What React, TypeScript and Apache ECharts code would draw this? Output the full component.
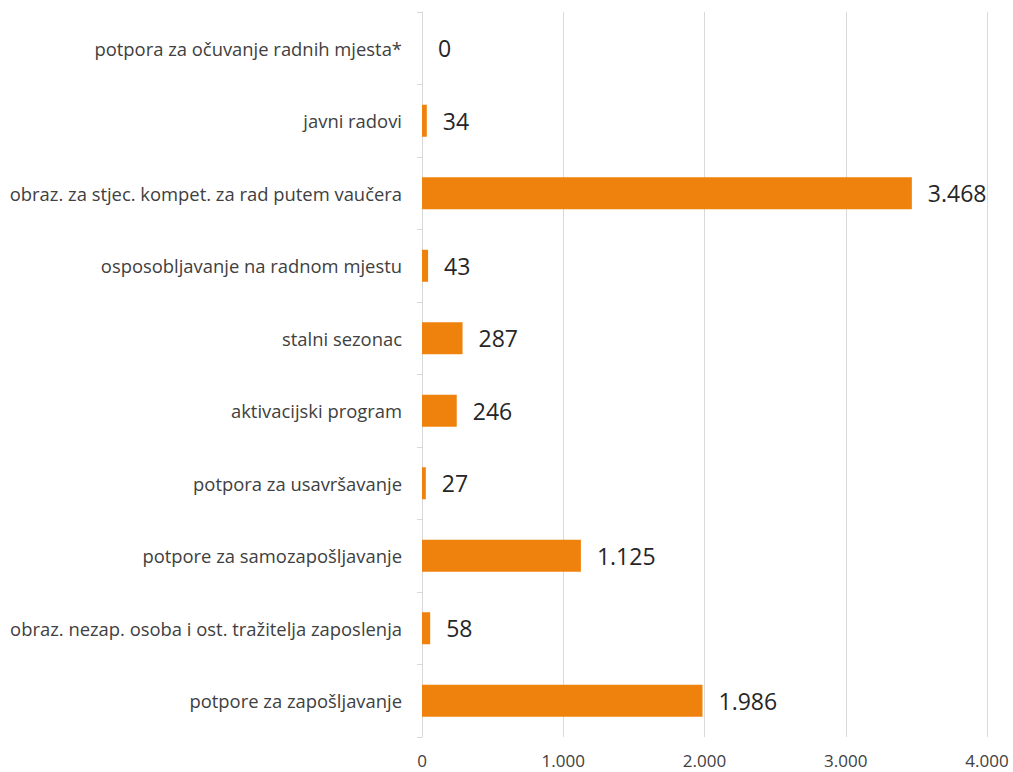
import React, { useEffect, useRef } from "react";
import * as echarts from "echarts";

const categories = [
  "potpora za očuvanje radnih mjesta*",
  "javni radovi",
  "obraz. za stjec. kompet. za rad putem vaučera",
  "osposobljavanje na radnom mjestu",
  "stalni sezonac",
  "aktivacijski program",
  "potpora za usavršavanje",
  "potpore za samozapošljavanje",
  "obraz. nezap. osoba i ost. tražitelja zaposlenja",
  "potpore za zapošljavanje",
];
const values = [0, 34, 3468, 43, 287, 246, 27, 1125, 58, 1986];

const fmt = (v: number) => String(v).replace(/\B(?=(\d{3})+(?!\d))/g, ".");

export default function App() {
  const ref = useRef<HTMLDivElement>(null);
  useEffect(() => {
    document.body.style.margin = "0";
    const chart = echarts.init(ref.current!, null, { renderer: "svg" });
    const font = "'Open Sans', sans-serif";
    chart.setOption({
      animation: false,
      grid: { left: 422, right: 26, top: 12, bottom: 35, containLabel: false },
      xAxis: {
        type: "value",
        min: 0,
        max: 4000,
        interval: 1000,
        axisLine: { show: false },
        axisTick: { show: false },
        splitLine: { lineStyle: { color: "#d9d9d9", width: 1 } },
        axisLabel: {
          formatter: (v: number) => fmt(v),
          color: "#404040",
          fontFamily: font,
          fontSize: 17,
          margin: 15,
        },
      },
      yAxis: {
        type: "category",
        inverse: true,
        data: categories,
        axisLine: { show: true, lineStyle: { color: "#d9d9d9", width: 1 } },
        axisTick: { show: true, length: 5, lineStyle: { color: "#d9d9d9" } },
        axisLabel: { color: "#404040", fontFamily: font, fontSize: 18.4, margin: 20 },
      },
      series: [
        {
          type: "bar",
          data: values,
          barWidth: 32,
          itemStyle: { color: "#EF820D" },
          label: {
            show: true,
            position: "right",
            distance: 16,
            formatter: (p: any) => fmt(p.value),
            color: "#262626",
            fontFamily: font,
            fontSize: 23,
          },
        },
      ],
    });
    return () => chart.dispose();
  }, []);
  return <div ref={ref} style={{ width: 1013, height: 772 }} />;
}
